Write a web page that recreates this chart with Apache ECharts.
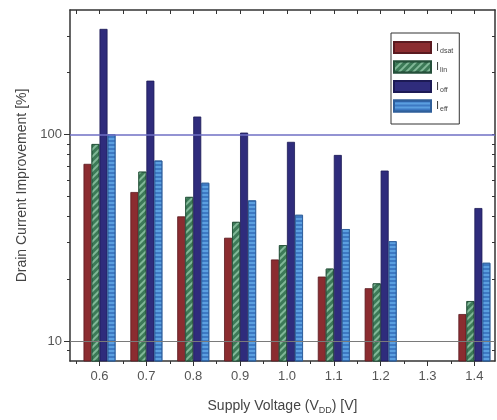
<!DOCTYPE html>
<html>
<head>
<meta charset="utf-8">
<script src="https://cdn.jsdelivr.net/npm/echarts@6/dist/echarts.min.js"></script>
<style>
  html, body { margin: 0; padding: 0; background: #fff; }
  #chart { width: 497px; height: 420px; }
</style>
</head>
<body>
<div id="chart"></div>
<script>
// supply voltage (V) for each bar group, 1.3 V has no measurement
const voltages = [0.6, 0.7, 0.8, 0.9, 1.0, 1.1, 1.2, 1.3, 1.4];
const idsat = [72, 52.6, 40.1, 31.6, 24.8, 20.5, 18, null, 13.5];
const ilin = [89.8, 66, 49.8, 37.7, 29.1, 22.4, 19, null, 15.6];
const ioff = [324, 182, 122, 102, 92, 79.5, 66.8, null, 44];
const ieff = [100, 74.7, 58.3, 47.9, 40.8, 34.8, 30.4, null, 23.9];
const subNames = ['dsat', 'lin', 'off', 'eff'];

// tick positions
const xMajor = [0.6, 0.7, 0.8, 0.9, 1.0, 1.1, 1.2, 1.3, 1.4];
const xMinor = [0.55, 0.65, 0.75, 0.85, 0.95, 1.05, 1.15, 1.25, 1.35];
const yMajor = [10, 100];
const yMinor = [9, 20, 30, 40, 50, 60, 70, 80, 90, 200, 300];
const refLines = [10, 100];

const font = 'Liberation Sans, Arial, sans-serif';
const xRange = { min: 0.537, max: 1.444 };
const yRange = { min: 8, max: 400 };

const myChart = echarts.init(document.getElementById('chart'));

function pairs(arr) {
    return voltages.map((v, i) => [v, arr[i]]);
}

function barSeries(name, arr, color, border, decal) {
    return {
        name: name,
        type: 'bar',
        barWidth: 8,
        barGap: '0%',
        z: 3,
        itemStyle: {
            color: color,
            borderColor: border,
            borderWidth: 0.8,
            decal: decal
        },
        data: pairs(arr)
    };
}

const option = {
    backgroundColor: '#fff',
    textStyle: { fontFamily: font },
    grid: { left: 70, right: 2, top: 10, bottom: 57 },
    legend: {
        orient: 'vertical',
        left: 391,
        top: 33,
        data: subNames,
        icon: 'rect',
        itemWidth: 37,
        itemHeight: 11,
        itemGap: 6,
        padding: [8, 6, 11, 2],
        borderColor: '#333',
        borderWidth: 1,
        backgroundColor: '#fff',
        formatter: name => '{i|I}{s|' + name + '}',
        textStyle: {
            color: '#444',
            rich: {
                i: { fontSize: 11, color: '#444' },
                s: { fontSize: 7, color: '#444', padding: [7, 0, 0, 1] }
            }
        }
    },
    xAxis: [
        {
            type: 'value',
            position: 'bottom',
            min: xRange.min,
            max: xRange.max,
            name: 'Supply Voltage (V{sub|DD}) [V]',
            nameLocation: 'middle',
            nameGap: 36,
            nameTextStyle: {
                color: '#444',
                fontSize: 14,
                rich: { sub: { fontSize: 9, color: '#444', padding: [9, 0, 0, 0] } }
            },
            axisLine: { lineStyle: { color: '#333', width: 1.5 } },
            axisTick: { customValues: xMajor, length: 5, lineStyle: { color: '#333' } },
            axisLabel: {
                customValues: xMajor,
                formatter: v => v.toFixed(1),
                color: '#555',
                fontSize: 13,
                margin: 9
            },
            splitLine: { show: false }
        },
        {
            type: 'value',
            position: 'bottom',
            min: xRange.min,
            max: xRange.max,
            axisLine: { show: false },
            axisTick: { customValues: xMinor, length: 3, lineStyle: { color: '#333' } },
            axisLabel: { show: false },
            splitLine: { show: false }
        },
        {
            type: 'value',
            position: 'top',
            min: xRange.min,
            max: xRange.max,
            axisLine: { lineStyle: { color: '#333', width: 1.5 } },
            axisTick: { customValues: xMajor.concat(xMinor), inside: true, length: 4, lineStyle: { color: '#333' } },
            axisLabel: { show: false },
            splitLine: { show: false }
        }
    ],
    yAxis: [
        {
            type: 'log',
            logBase: 10,
            position: 'left',
            min: yRange.min,
            max: yRange.max,
            name: 'Drain Current Improvement [%]',
            nameLocation: 'middle',
            nameGap: 40,
            nameTextStyle: { color: '#444', fontSize: 14 },
            axisLine: { show: true, lineStyle: { color: '#333', width: 1.5 } },
            axisTick: { customValues: yMajor, length: 6, lineStyle: { color: '#333' } },
            axisLabel: { customValues: yMajor, color: '#555', fontSize: 13, margin: 8 },
            splitLine: { show: false }
        },
        {
            type: 'log',
            logBase: 10,
            position: 'left',
            min: yRange.min,
            max: yRange.max,
            axisLine: { show: false },
            axisTick: { customValues: yMinor, length: 3, lineStyle: { color: '#333' } },
            axisLabel: { show: false },
            splitLine: { show: false }
        },
        {
            type: 'log',
            logBase: 10,
            position: 'right',
            min: yRange.min,
            max: yRange.max,
            axisLine: { show: true, lineStyle: { color: '#333', width: 1.5 } },
            axisTick: { customValues: yMajor.concat(yMinor), inside: true, length: 3, lineStyle: { color: '#333' } },
            axisLabel: { show: false },
            splitLine: { show: false }
        }
    ],
    series: [
        barSeries('dsat', idsat, '#8b2c30', '#5a1a20'),
        barSeries('lin', ilin, '#3c7a57', '#25503a', {
            symbol: 'rect',
            color: 'rgba(175,225,195,0.6)',
            dashArrayX: [1, 0],
            dashArrayY: [2, 3],
            rotation: -Math.PI / 4
        }),
        barSeries('off', ioff, '#2f2c7c', '#1c1a55'),
        barSeries('eff', ieff, '#5b9fe0', '#2f5f9a', {
            symbol: 'rect',
            color: 'rgba(25,75,160,0.45)',
            dashArrayX: [1, 0],
            dashArrayY: [1.5, 2],
            rotation: 0
        }),
        {
            // reference lines at the decades, drawn behind the bars
            type: 'line',
            z: 1,
            data: [],
            markLine: {
                silent: true,
                symbol: 'none',
                label: { show: false },
                data: [
                    { yAxis: refLines[1], lineStyle: { color: '#6f6fc4', width: 1.5, type: 'solid' } },
                    { yAxis: refLines[0], lineStyle: { color: '#7a7a7a', width: 1.2, type: 'solid' } }
                ]
            }
        }
    ]
};

myChart.setOption(option);
</script>
</body>
</html>
